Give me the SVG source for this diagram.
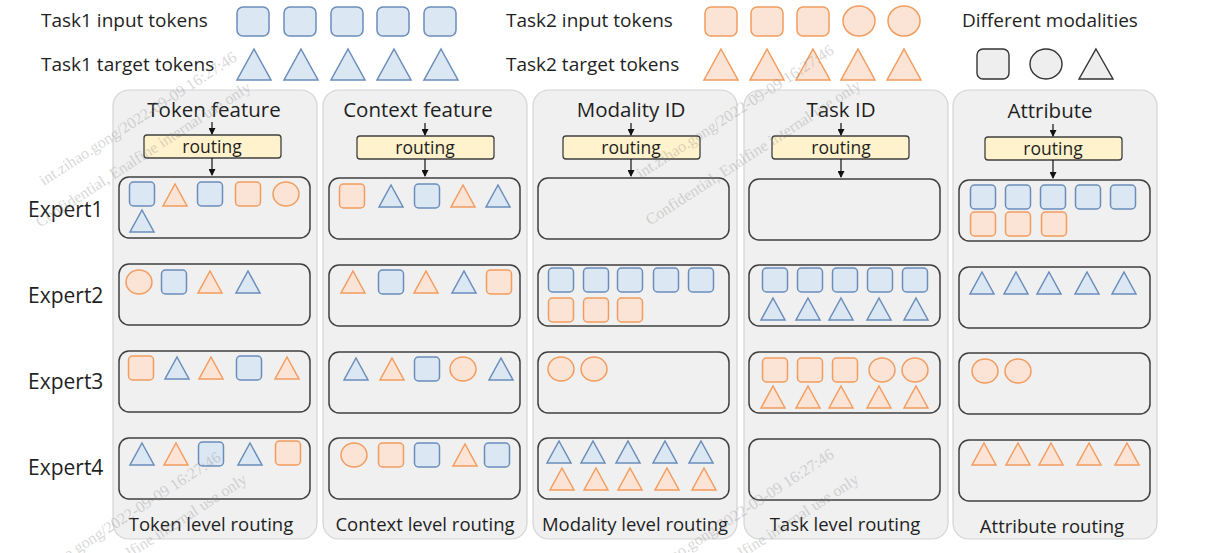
<svg xmlns="http://www.w3.org/2000/svg" width="1210" height="553" viewBox="0 0 1210 553">
<style>
text{font-family:"Open Sans","Noto Sans",sans-serif;fill:#1f1f1f}
.lg{font-size:19px}
.ex{font-size:21px}
.tt{font-size:20.5px;text-anchor:middle}
.rt{font-size:17.5px;text-anchor:middle}
.bl{font-size:18.5px;text-anchor:middle}
.panel{fill:#f0f0f0;stroke:#d4d4d4;stroke-width:1.2}
.box{fill:none;stroke:#3f3f3f;stroke-width:1.5}
.route{fill:#fff2cc;stroke:#3f3f3f;stroke-width:1.3}
.b{fill:#dce7f4;stroke:#6a8dba;stroke-width:1.5}
.o{fill:#fbe4d5;stroke:#f29c5e;stroke-width:1.5}
.g{fill:#eeeeee;stroke:#333333;stroke-width:1.4}
.ar{stroke:#111;stroke-width:1.2;fill:none;marker-end:url(#ah)}
.wm{font-family:"Liberation Serif",serif;font-size:16px;fill:#8a8a8a;opacity:0.33;text-anchor:end}
</style>
<defs>
<marker id="ah" markerWidth="7" markerHeight="7" refX="6" refY="3.5" orient="auto" markerUnits="userSpaceOnUse">
<path d="M0,0 L7,3.5 L0,7 Z" fill="#111"/>
</marker>
<rect id="bs" class="b" x="-12.5" y="-12" width="25" height="24" rx="4"/>
<rect id="os" class="o" x="-12.5" y="-12" width="25" height="24" rx="4"/>
<ellipse id="oc" class="o" cx="0" cy="0" rx="13" ry="12"/>
<path id="bt" class="b" d="M0,-11 L12,11 L-12,11 Z"/>
<path id="ot" class="o" d="M0,-11 L12,11 L-12,11 Z"/>
</defs>
<rect width="1210" height="553" fill="#ffffff"/>

<g id="legend">
<text class="lg" x="41" y="27">Task1 input tokens</text>
<text class="lg" x="41" y="71">Task1 target tokens</text>
<rect class="b" x="237" y="7" width="32" height="29" rx="6"/>
<rect class="b" x="284" y="7" width="32" height="29" rx="6"/>
<rect class="b" x="331" y="7" width="32" height="29" rx="6"/>
<rect class="b" x="377" y="7" width="32" height="29" rx="6"/>
<rect class="b" x="424" y="7" width="32" height="29" rx="6"/>
<path class="b" d="M254,49 L271,80 L237,80 Z"/>
<path class="b" d="M301,49 L318,80 L284,80 Z"/>
<path class="b" d="M348,49 L365,80 L331,80 Z"/>
<path class="b" d="M394,49 L411,80 L377,80 Z"/>
<path class="b" d="M441,49 L458,80 L424,80 Z"/>
<text class="lg" x="506" y="27">Task2 input tokens</text>
<text class="lg" x="506" y="71">Task2 target tokens</text>
<rect class="o" x="705" y="7" width="32" height="29" rx="6"/>
<rect class="o" x="751" y="7" width="32" height="29" rx="6"/>
<rect class="o" x="797" y="7" width="32" height="29" rx="6"/>
<ellipse class="o" cx="859" cy="21" rx="16" ry="15"/>
<ellipse class="o" cx="904" cy="21" rx="16" ry="15"/>
<path class="o" d="M721,49 L738,80 L704,80 Z"/>
<path class="o" d="M767,49 L784,80 L750,80 Z"/>
<path class="o" d="M813,49 L830,80 L796,80 Z"/>
<path class="o" d="M858,49 L875,80 L841,80 Z"/>
<path class="o" d="M904,49 L921,80 L887,80 Z"/>
<text class="lg" x="962" y="27">Different modalities</text>
<rect class="g" x="977" y="49" width="32" height="30" rx="6"/>
<ellipse class="g" cx="1046" cy="64" rx="16" ry="15"/>
<path class="g" d="M1096,49 L1113,79 L1079,79 Z"/>
</g>

<g id="expert-labels">
<text class="ex" x="28" y="217">Expert1</text>
<text class="ex" x="28" y="303">Expert2</text>
<text class="ex" x="28" y="389">Expert3</text>
<text class="ex" x="28" y="475">Expert4</text>
</g>

<g id="col-token">
<rect class="panel" x="113" y="90" width="204" height="449" rx="16"/>
<text class="tt" x="214" y="117">Token feature</text>
<rect class="route" x="144" y="135" width="137" height="23" rx="3"/>
<text class="rt" x="212" y="153">routing</text>
<rect class="box" x="119" y="177" width="191" height="61" rx="10"/>
<rect class="box" x="119" y="264" width="191" height="61" rx="10"/>
<rect class="box" x="119" y="351" width="191" height="61" rx="10"/>
<rect class="box" x="119" y="438" width="191" height="61" rx="10"/>
<use href="#bs" x="142" y="194"/><use href="#ot" x="175" y="195"/><use href="#bs" x="210" y="194"/><use href="#os" x="248" y="194"/><use href="#oc" x="286" y="194"/>
<use href="#bt" x="142" y="221"/>
<use href="#oc" x="139" y="282"/><use href="#bs" x="174" y="282"/><use href="#ot" x="210" y="282"/><use href="#bt" x="248" y="282"/>
<use href="#os" x="141" y="368"/><use href="#bt" x="177" y="368"/><use href="#ot" x="211" y="368"/><use href="#bs" x="249" y="368"/><use href="#ot" x="287" y="368"/>
<use href="#bt" x="142" y="454"/><use href="#ot" x="176" y="454"/><use href="#bs" x="211" y="454"/><use href="#bt" x="250" y="454"/><use href="#os" x="288" y="453"/>
<text class="bl" x="211" y="531">Token level routing</text>
</g>

<g id="col-context">
<rect class="panel" x="323" y="90" width="204" height="449" rx="16"/>
<text class="tt" x="418" y="117">Context feature</text>
<rect class="route" x="357" y="136" width="137" height="23" rx="3"/>
<text class="rt" x="425" y="154">routing</text>
<rect class="box" x="329" y="178" width="191" height="61" rx="10"/>
<rect class="box" x="329" y="265" width="191" height="61" rx="10"/>
<rect class="box" x="329" y="352" width="191" height="61" rx="10"/>
<rect class="box" x="329" y="438" width="191" height="61" rx="10"/>
<use href="#os" x="352" y="196"/><use href="#bt" x="391" y="196"/><use href="#bs" x="427" y="196"/><use href="#ot" x="463" y="196"/><use href="#bt" x="498" y="196"/>
<use href="#ot" x="353" y="282"/><use href="#bs" x="391" y="282"/><use href="#ot" x="426" y="282"/><use href="#bt" x="464" y="282"/><use href="#os" x="499" y="282"/>
<use href="#bt" x="356" y="369"/><use href="#ot" x="392" y="369"/><use href="#bs" x="427" y="369"/><use href="#oc" x="463" y="369"/><use href="#bt" x="501" y="369"/>
<use href="#oc" x="354" y="455"/><use href="#os" x="391" y="455"/><use href="#bs" x="427" y="455"/><use href="#ot" x="465" y="455"/><use href="#bs" x="497" y="455"/>
<text class="bl" x="425" y="531">Context level routing</text>
</g>

<g id="col-modality">
<rect class="panel" x="533" y="90" width="204" height="449" rx="16"/>
<text class="tt" x="631" y="117">Modality ID</text>
<rect class="route" x="563" y="136" width="137" height="23" rx="3"/>
<text class="rt" x="631" y="154">routing</text>
<rect class="box" x="538" y="178" width="191" height="61" rx="10"/>
<rect class="box" x="538" y="265" width="191" height="61" rx="10"/>
<rect class="box" x="538" y="352" width="191" height="61" rx="10"/>
<rect class="box" x="538" y="438" width="191" height="61" rx="10"/>
<use href="#bs" x="561" y="280"/><use href="#bs" x="596" y="280"/><use href="#bs" x="630" y="280"/><use href="#bs" x="666" y="280"/><use href="#bs" x="701" y="280"/>
<use href="#os" x="561" y="310"/><use href="#os" x="596" y="310"/><use href="#os" x="630" y="310"/>
<use href="#oc" x="561" y="369"/><use href="#oc" x="594" y="369"/>
<use href="#bt" x="559" y="452"/><use href="#bt" x="593" y="452"/><use href="#bt" x="628" y="452"/><use href="#bt" x="665" y="452"/><use href="#bt" x="701" y="452"/>
<use href="#ot" x="562" y="479"/><use href="#ot" x="596" y="479"/><use href="#ot" x="630" y="479"/><use href="#ot" x="667" y="479"/><use href="#ot" x="704" y="479"/>
<text class="bl" x="635" y="531">Modality level routing</text>
</g>

<g id="col-task">
<rect class="panel" x="744" y="90" width="204" height="449" rx="16"/>
<text class="tt" x="841" y="117">Task ID</text>
<rect class="route" x="772" y="136" width="137" height="23" rx="3"/>
<text class="rt" x="841" y="154">routing</text>
<rect class="box" x="749" y="179" width="191" height="61" rx="10"/>
<rect class="box" x="749" y="265" width="191" height="61" rx="10"/>
<rect class="box" x="749" y="352" width="191" height="61" rx="10"/>
<rect class="box" x="749" y="439" width="191" height="61" rx="10"/>
<use href="#bs" x="775" y="280"/><use href="#bs" x="810" y="280"/><use href="#bs" x="845" y="280"/><use href="#bs" x="880" y="280"/><use href="#bs" x="915" y="280"/>
<use href="#bt" x="773" y="309"/><use href="#bt" x="808" y="309"/><use href="#bt" x="841" y="309"/><use href="#bt" x="879" y="309"/><use href="#bt" x="916" y="309"/>
<use href="#os" x="775" y="370"/><use href="#os" x="810" y="370"/><use href="#os" x="845" y="370"/><use href="#oc" x="882" y="370"/><use href="#oc" x="915" y="370"/>
<use href="#ot" x="773" y="397"/><use href="#ot" x="808" y="397"/><use href="#ot" x="841" y="397"/><use href="#ot" x="879" y="397"/><use href="#ot" x="916" y="397"/>
<text class="bl" x="845" y="531">Task level routing</text>
</g>

<g id="col-attribute">
<rect class="panel" x="953" y="90" width="204" height="449" rx="16"/>
<text class="tt" x="1050" y="118">Attribute</text>
<rect class="route" x="985" y="137" width="137" height="23" rx="3"/>
<text class="rt" x="1053" y="155">routing</text>
<rect class="box" x="959" y="180" width="191" height="61" rx="10"/>
<rect class="box" x="959" y="267" width="191" height="61" rx="10"/>
<rect class="box" x="959" y="353" width="191" height="61" rx="10"/>
<rect class="box" x="959" y="440" width="191" height="61" rx="10"/>
<use href="#bs" x="983" y="197"/><use href="#bs" x="1018" y="197"/><use href="#bs" x="1053" y="197"/><use href="#bs" x="1088" y="197"/><use href="#bs" x="1123" y="197"/>
<use href="#os" x="983" y="224"/><use href="#os" x="1018" y="224"/><use href="#os" x="1054" y="224"/>
<use href="#bt" x="982" y="283"/><use href="#bt" x="1016" y="283"/><use href="#bt" x="1049" y="283"/><use href="#bt" x="1087" y="283"/><use href="#bt" x="1124" y="283"/>
<use href="#oc" x="985" y="371"/><use href="#oc" x="1018" y="371"/>
<use href="#ot" x="984" y="454"/><use href="#ot" x="1018" y="454"/><use href="#ot" x="1051" y="454"/><use href="#ot" x="1089" y="454"/><use href="#ot" x="1127" y="454"/>
<text class="bl" x="1052" y="533">Attribute routing</text>
</g>

<g id="connectors">
<line class="ar" x1="212" y1="122" x2="212" y2="134"/>
<line class="ar" x1="212" y1="158" x2="212" y2="175"/>
<line class="ar" x1="425" y1="123" x2="425" y2="135"/>
<line class="ar" x1="425" y1="159" x2="425" y2="176"/>
<line class="ar" x1="631" y1="123" x2="631" y2="135"/>
<line class="ar" x1="631" y1="159" x2="631" y2="176"/>
<line class="ar" x1="841" y1="123" x2="841" y2="135"/>
<line class="ar" x1="841" y1="159" x2="841" y2="177"/>
<line class="ar" x1="1053" y1="124" x2="1053" y2="136"/>
<line class="ar" x1="1053" y1="160" x2="1053" y2="178"/>
</g>

<g id="watermark">
<text class="wm" transform="translate(238,60) rotate(-33)">int.zihao.gong/2022-09-09 16:27:46</text>
<text class="wm" transform="translate(252,90) rotate(-33)">Confidential, Enalfine internal use only</text>
<text class="wm" transform="translate(835,53) rotate(-33)">int.zihao.gong/2022-09-09 16:27:46</text>
<text class="wm" transform="translate(862,88) rotate(-33)">Confidential, Enalfine internal use only</text>
<text class="wm" transform="translate(222,460) rotate(-33)">int.zihao.gong/2022-09-09 16:27:46</text>
<text class="wm" transform="translate(248,482) rotate(-33)">Confidential, Enalfine internal use only</text>
<text class="wm" transform="translate(835,457) rotate(-33)">int.zihao.gong/2022-09-09 16:27:46</text>
<text class="wm" transform="translate(860,482) rotate(-33)">Confidential, Enalfine internal use only</text>
</g>
</svg>
